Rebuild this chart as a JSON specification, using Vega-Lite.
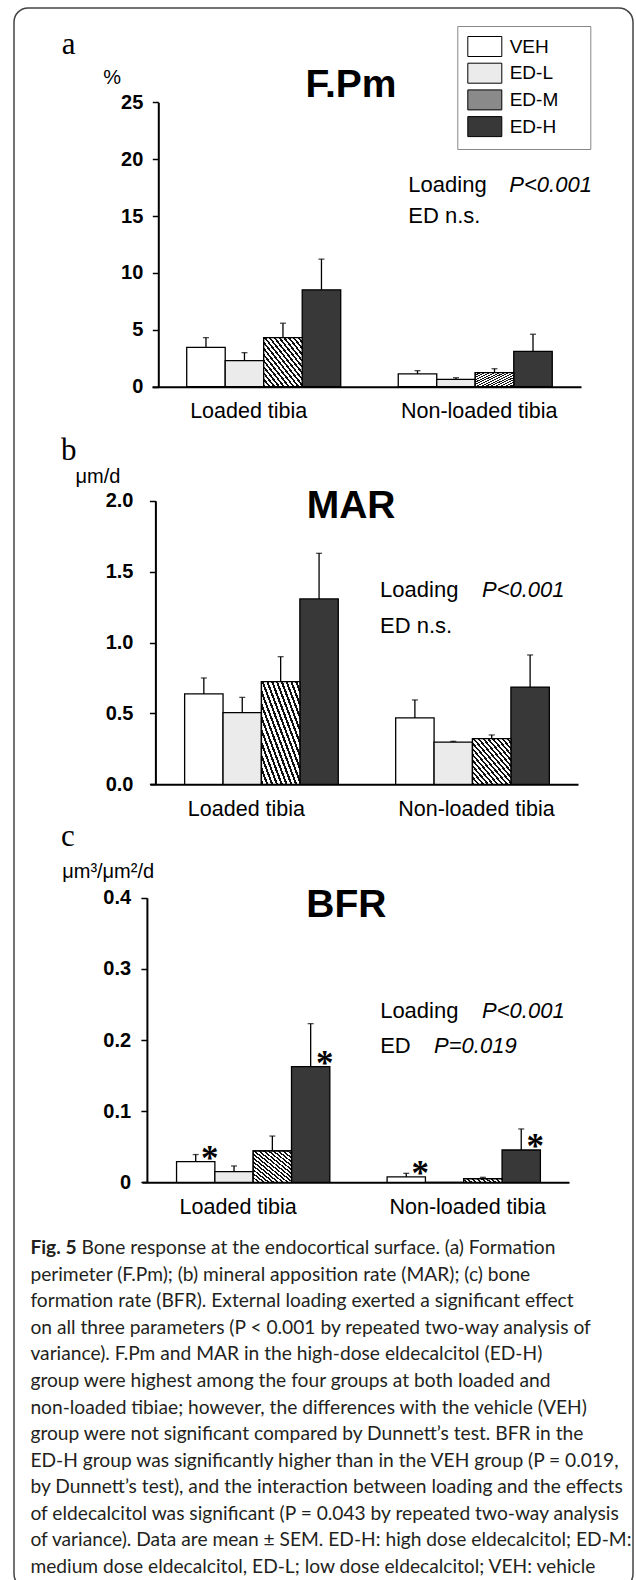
{
  "$schema": "https://vega.github.io/schema/vega-lite/v6.json",
  "width": 619,
  "height": 1580,
  "autosize": "none",
  "padding": {"left": 14, "top": 8, "right": 3, "bottom": -8},
  "background": "white",
  "config": {
    "font": "Liberation Sans",
    "view": {"stroke": "#444444", "strokeWidth": 1.5, "cornerRadius": 14},
    "axis": {"grid": false},
    "text": {"color": "black"}
  },
  "datasets": {
    "fpm": [
      {"tibia": "Loaded tibia", "group": "VEH", "mean": 3.46, "upper": 4.31, "sig": ""},
      {"tibia": "Loaded tibia", "group": "ED-L", "mean": 2.29, "upper": 2.99, "sig": ""},
      {"tibia": "Loaded tibia", "group": "ED-M", "mean": 4.31, "upper": 5.58, "sig": ""},
      {"tibia": "Loaded tibia", "group": "ED-H", "mean": 8.51, "upper": 11.21, "sig": ""},
      {"tibia": "Non-loaded tibia", "group": "VEH", "mean": 1.12, "upper": 1.41, "sig": ""},
      {"tibia": "Non-loaded tibia", "group": "ED-L", "mean": 0.65, "upper": 0.79, "sig": ""},
      {"tibia": "Non-loaded tibia", "group": "ED-M", "mean": 1.23, "upper": 1.58, "sig": ""},
      {"tibia": "Non-loaded tibia", "group": "ED-H", "mean": 3.11, "upper": 4.61, "sig": ""}
    ],
    "mar": [
      {"tibia": "Loaded tibia", "group": "VEH", "mean": 0.637, "upper": 0.75, "sig": ""},
      {"tibia": "Loaded tibia", "group": "ED-L", "mean": 0.505, "upper": 0.613, "sig": ""},
      {"tibia": "Loaded tibia", "group": "ED-M", "mean": 0.724, "upper": 0.9, "sig": ""},
      {"tibia": "Loaded tibia", "group": "ED-H", "mean": 1.307, "upper": 1.629, "sig": ""},
      {"tibia": "Non-loaded tibia", "group": "VEH", "mean": 0.468, "upper": 0.595, "sig": ""},
      {"tibia": "Non-loaded tibia", "group": "ED-L", "mean": 0.298, "upper": 0.303, "sig": ""},
      {"tibia": "Non-loaded tibia", "group": "ED-M", "mean": 0.322, "upper": 0.348, "sig": ""},
      {"tibia": "Non-loaded tibia", "group": "ED-H", "mean": 0.686, "upper": 0.912, "sig": ""}
    ],
    "bfr": [
      {"tibia": "Loaded tibia", "group": "VEH", "mean": 0.029, "upper": 0.039, "sig": "*"},
      {"tibia": "Loaded tibia", "group": "ED-L", "mean": 0.015, "upper": 0.023, "sig": ""},
      {"tibia": "Loaded tibia", "group": "ED-M", "mean": 0.044, "upper": 0.065, "sig": ""},
      {"tibia": "Loaded tibia", "group": "ED-H", "mean": 0.1625, "upper": 0.223, "sig": "*"},
      {"tibia": "Non-loaded tibia", "group": "VEH", "mean": 0.0075, "upper": 0.0126, "sig": "*"},
      {"tibia": "Non-loaded tibia", "group": "ED-L", "mean": 0, "upper": null, "sig": ""},
      {"tibia": "Non-loaded tibia", "group": "ED-M", "mean": 0.005, "upper": 0.007, "sig": ""},
      {"tibia": "Non-loaded tibia", "group": "ED-H", "mean": 0.0454, "upper": 0.075, "sig": "*"}
    ],
    "caption": [
      {"line": 1, "text": "Bone response at the endocortical surface. (a) Formation"},
      {"line": 2, "text": "perimeter (F.Pm); (b) mineral apposition rate (MAR); (c) bone"},
      {"line": 3, "text": "formation rate (BFR). External loading exerted a significant effect"},
      {"line": 4, "text": "on all three parameters (P < 0.001 by repeated two-way analysis of"},
      {"line": 5, "text": "variance). F.Pm and MAR in the high-dose eldecalcitol (ED-H)"},
      {"line": 6, "text": "group were highest among the four groups at both loaded and"},
      {"line": 7, "text": "non-loaded tibiae; however, the differences with the vehicle (VEH)"},
      {"line": 8, "text": "group were not significant compared by Dunnett’s test. BFR in the"},
      {"line": 9, "text": "ED-H group was significantly higher than in the VEH group (P = 0.019,"},
      {"line": 10, "text": "by Dunnett’s test), and the interaction between loading and the effects"},
      {"line": 11, "text": "of eldecalcitol was significant (P = 0.043 by repeated two-way analysis"},
      {"line": 12, "text": "of variance). Data are mean ± SEM. ED-H: high dose eldecalcitol; ED-M:"},
      {"line": 13, "text": "medium dose eldecalcitol, ED-L; low dose eldecalcitol; VEH: vehicle"}
    ]
  },
  "layer": [
    {
      "data": {"name": "fpm"},
      "layer": [
        {
          "mark": {"type": "bar", "stroke": "black", "strokeWidth": 1.3},
          "encoding": {
            "x": {"field": "tibia", "type": "nominal", "sort": ["Loaded tibia", "Non-loaded tibia"],
              "scale": {"range": [138, 567], "paddingInner": 0.272, "paddingOuter": 0.15, "align": 0.547},
              "axis": {"orient": "bottom", "offset": -1201.3, "title": null, "ticks": false, "domainColor": "black", "domainWidth": 2, "labelFontSize": 21.5, "labelColor": "black", "labelPadding": 14, "labelAngle": 0, "labelLimit": 300,
                "labelOffset": {"condition": {"test": "datum.value === 'Loaded tibia'", "value": -15}, "value": 4}}},
            "xOffset": {"field": "group", "type": "nominal", "sort": ["VEH", "ED-L", "ED-M", "ED-H"], "scale": {"paddingInner": 0, "paddingOuter": 0}},
            "y": {"field": "mean", "type": "quantitative",
              "scale": {"domain": [0, 25], "range": [378.7, 94.2], "nice": false, "zero": true},
              "axis": {"orient": "left", "offset": -144.3, "values": [0, 5, 10, 15, 20, 25], "format": "d", "tickSize": 6, "tickWidth": 1.5, "tickColor": "black", "domainColor": "black", "domainWidth": 2, "labelFontSize": 20, "labelFontWeight": "bold", "labelColor": "black", "labelPadding": 9.5,
                "title": "%", "titleAngle": 0, "titleAlign": "left", "titleBaseline": "alphabetic", "titleX": -55.6, "titleY": 75, "titleFontSize": 20, "titleFontWeight": "normal", "titleColor": "black"}},
            "fill": {"field": "group", "type": "nominal", "sort": ["VEH", "ED-L", "ED-M", "ED-H"],
              "scale": {"domain": ["VEH", "ED-L", "ED-M", "ED-H"], "range": ["#ffffff", "#ebebeb", "#8a8a8a", "#383838"]},
              "legend": {"orient": "none", "legendX": 443.3, "legendY": 18, "title": "....", "titleColor": "white", "titleOrient": "right", "titlePadding": 0, "titleFontSize": 19,
                "fillColor": "white", "strokeColor": "#888888", "padding": 10, "rowPadding": 1.7,
                "symbolType": "M-1,-1L2.4,-1L2.4,1L-1,1Z", "symbolSize": 400, "symbolStrokeColor": "black", "symbolStrokeWidth": 1, "symbolOpacity": 1,
                "labelFontSize": 19, "labelColor": "black", "labelOffset": 21.4}}
          }
        },
        {
          "transform": [{"filter": "datum.group === 'ED-M'"}],
          "mark": {"type": "bar", "stroke": "black", "strokeWidth": 1.3,
            "fill": {"gradient": "linear", "x1": 0, "y1": 1, "x2": 1, "y2": 0, "stops": [
              {"offset": 0, "color": "#111111"}, {"offset": 0.028125, "color": "#111111"}, {"offset": 0.028125, "color": "#ffffff"}, {"offset": 0.0625, "color": "#ffffff"},
              {"offset": 0.0625, "color": "#111111"}, {"offset": 0.090625, "color": "#111111"}, {"offset": 0.090625, "color": "#ffffff"}, {"offset": 0.125, "color": "#ffffff"},
              {"offset": 0.125, "color": "#111111"}, {"offset": 0.153125, "color": "#111111"}, {"offset": 0.153125, "color": "#ffffff"}, {"offset": 0.1875, "color": "#ffffff"},
              {"offset": 0.1875, "color": "#111111"}, {"offset": 0.215625, "color": "#111111"}, {"offset": 0.215625, "color": "#ffffff"}, {"offset": 0.25, "color": "#ffffff"},
              {"offset": 0.25, "color": "#111111"}, {"offset": 0.278125, "color": "#111111"}, {"offset": 0.278125, "color": "#ffffff"}, {"offset": 0.3125, "color": "#ffffff"},
              {"offset": 0.3125, "color": "#111111"}, {"offset": 0.340625, "color": "#111111"}, {"offset": 0.340625, "color": "#ffffff"}, {"offset": 0.375, "color": "#ffffff"},
              {"offset": 0.375, "color": "#111111"}, {"offset": 0.403125, "color": "#111111"}, {"offset": 0.403125, "color": "#ffffff"}, {"offset": 0.4375, "color": "#ffffff"},
              {"offset": 0.4375, "color": "#111111"}, {"offset": 0.465625, "color": "#111111"}, {"offset": 0.465625, "color": "#ffffff"}, {"offset": 0.5, "color": "#ffffff"},
              {"offset": 0.5, "color": "#111111"}, {"offset": 0.528125, "color": "#111111"}, {"offset": 0.528125, "color": "#ffffff"}, {"offset": 0.5625, "color": "#ffffff"},
              {"offset": 0.5625, "color": "#111111"}, {"offset": 0.590625, "color": "#111111"}, {"offset": 0.590625, "color": "#ffffff"}, {"offset": 0.625, "color": "#ffffff"},
              {"offset": 0.625, "color": "#111111"}, {"offset": 0.653125, "color": "#111111"}, {"offset": 0.653125, "color": "#ffffff"}, {"offset": 0.6875, "color": "#ffffff"},
              {"offset": 0.6875, "color": "#111111"}, {"offset": 0.715625, "color": "#111111"}, {"offset": 0.715625, "color": "#ffffff"}, {"offset": 0.75, "color": "#ffffff"},
              {"offset": 0.75, "color": "#111111"}, {"offset": 0.778125, "color": "#111111"}, {"offset": 0.778125, "color": "#ffffff"}, {"offset": 0.8125, "color": "#ffffff"},
              {"offset": 0.8125, "color": "#111111"}, {"offset": 0.840625, "color": "#111111"}, {"offset": 0.840625, "color": "#ffffff"}, {"offset": 0.875, "color": "#ffffff"},
              {"offset": 0.875, "color": "#111111"}, {"offset": 0.903125, "color": "#111111"}, {"offset": 0.903125, "color": "#ffffff"}, {"offset": 0.9375, "color": "#ffffff"},
              {"offset": 0.9375, "color": "#111111"}, {"offset": 0.965625, "color": "#111111"}, {"offset": 0.965625, "color": "#ffffff"}, {"offset": 1, "color": "#ffffff"}
            ]}},
          "encoding": {
            "x": {"field": "tibia", "type": "nominal", "sort": ["Loaded tibia", "Non-loaded tibia"]},
            "xOffset": {"field": "group", "type": "nominal", "sort": ["VEH", "ED-L", "ED-M", "ED-H"]},
            "y": {"field": "mean", "type": "quantitative"}
          }
        },
        {
          "mark": {"type": "rule", "color": "black", "strokeWidth": 1.3},
          "encoding": {
            "x": {"field": "tibia", "type": "nominal", "sort": ["Loaded tibia", "Non-loaded tibia"]},
            "xOffset": {"field": "group", "type": "nominal", "sort": ["VEH", "ED-L", "ED-M", "ED-H"]},
            "y": {"field": "mean", "type": "quantitative"},
            "y2": {"field": "upper"}
          }
        },
        {
          "mark": {"type": "tick", "color": "black", "thickness": 1.3, "size": 6, "orient": "horizontal"},
          "encoding": {
            "x": {"field": "tibia", "type": "nominal", "sort": ["Loaded tibia", "Non-loaded tibia"]},
            "xOffset": {"field": "group", "type": "nominal", "sort": ["VEH", "ED-L", "ED-M", "ED-H"]},
            "y": {"field": "upper", "type": "quantitative"}
          }
        },
        {
          "data": {"values": [{}]},
          "mark": {"type": "text", "text": "a", "font": "Liberation Serif", "fontSize": 31, "align": "left", "baseline": "alphabetic", "dx": -202},
          "encoding": {"x": {"datum": "Loaded tibia", "type": "nominal"}, "y": {"datum": 29.24, "type": "quantitative"}}
        },
        {
          "data": {"values": [{}]},
          "mark": {"type": "text", "text": "F.Pm", "fontSize": 39, "fontWeight": "bold", "align": "center", "baseline": "alphabetic", "dx": 87.3},
          "encoding": {"x": {"datum": "Loaded tibia", "type": "nominal"}, "y": {"datum": 25.46, "type": "quantitative"}}
        },
        {
          "data": {"values": [{}]},
          "mark": {"type": "text", "text": "Loading", "fontSize": 22, "align": "left", "baseline": "alphabetic", "dx": -66.9},
          "encoding": {"x": {"datum": "Non-loaded tibia", "type": "nominal"}, "y": {"datum": 17.13, "type": "quantitative"}}
        },
        {
          "data": {"values": [{}]},
          "mark": {"type": "text", "text": "P<0.001", "fontSize": 22, "fontStyle": "italic", "align": "left", "baseline": "alphabetic", "dx": 34.1},
          "encoding": {"x": {"datum": "Non-loaded tibia", "type": "nominal"}, "y": {"datum": 17.13, "type": "quantitative"}}
        },
        {
          "data": {"values": [{}]},
          "mark": {"type": "text", "text": "ED n.s.", "fontSize": 22, "align": "left", "baseline": "alphabetic", "dx": -66.9},
          "encoding": {"x": {"datum": "Non-loaded tibia", "type": "nominal"}, "y": {"datum": 14.36, "type": "quantitative"}}
        }
      ]
    },
    {
      "data": {"name": "mar"},
      "layer": [
        {
          "mark": {"type": "bar", "stroke": "black", "strokeWidth": 1.3},
          "encoding": {
            "x": {"field": "tibia", "type": "nominal", "sort": ["Loaded tibia", "Non-loaded tibia"],
              "scale": {"range": [136, 564], "paddingInner": 0.272, "paddingOuter": 0.15, "align": 0.547},
              "axis": {"orient": "bottom", "offset": -803.7, "title": null, "ticks": false, "domainColor": "black", "domainWidth": 2, "labelFontSize": 21.5, "labelColor": "black", "labelPadding": 14, "labelAngle": 0, "labelLimit": 300,
                "labelOffset": {"condition": {"test": "datum.value === 'Loaded tibia'", "value": -15}, "value": 4}}},
            "xOffset": {"field": "group", "type": "nominal", "sort": ["VEH", "ED-L", "ED-M", "ED-H"], "scale": {"paddingInner": 0, "paddingOuter": 0}},
            "y": {"field": "mean", "type": "quantitative",
              "scale": {"domain": [0, 2], "range": [776.3, 492.7], "nice": false, "zero": true},
              "axis": {"orient": "left", "offset": -141.4, "values": [0, 0.5, 1, 1.5, 2], "format": ".1f", "tickSize": 6, "tickWidth": 1.5, "tickColor": "black", "domainColor": "black", "domainWidth": 2, "labelFontSize": 20, "labelFontWeight": "bold", "labelColor": "black", "labelPadding": 16.4,
                "title": "μm/d", "titleAngle": 0, "titleAlign": "left", "titleBaseline": "alphabetic", "titleX": -80.4, "titleY": 474, "titleFontSize": 20, "titleFontWeight": "normal", "titleColor": "black"}},
            "fill": {"field": "group", "type": "nominal", "sort": ["VEH", "ED-L", "ED-M", "ED-H"]}
          }
        },
        {
          "transform": [{"filter": "datum.group === 'ED-M'"}],
          "mark": {"type": "bar", "stroke": "black", "strokeWidth": 1.3,
            "fill": {"gradient": "linear", "x1": 0, "y1": 1, "x2": 1, "y2": 0, "stops": [
              {"offset": 0, "color": "#111111"}, {"offset": 0.028125, "color": "#111111"}, {"offset": 0.028125, "color": "#ffffff"}, {"offset": 0.0625, "color": "#ffffff"},
              {"offset": 0.0625, "color": "#111111"}, {"offset": 0.090625, "color": "#111111"}, {"offset": 0.090625, "color": "#ffffff"}, {"offset": 0.125, "color": "#ffffff"},
              {"offset": 0.125, "color": "#111111"}, {"offset": 0.153125, "color": "#111111"}, {"offset": 0.153125, "color": "#ffffff"}, {"offset": 0.1875, "color": "#ffffff"},
              {"offset": 0.1875, "color": "#111111"}, {"offset": 0.215625, "color": "#111111"}, {"offset": 0.215625, "color": "#ffffff"}, {"offset": 0.25, "color": "#ffffff"},
              {"offset": 0.25, "color": "#111111"}, {"offset": 0.278125, "color": "#111111"}, {"offset": 0.278125, "color": "#ffffff"}, {"offset": 0.3125, "color": "#ffffff"},
              {"offset": 0.3125, "color": "#111111"}, {"offset": 0.340625, "color": "#111111"}, {"offset": 0.340625, "color": "#ffffff"}, {"offset": 0.375, "color": "#ffffff"},
              {"offset": 0.375, "color": "#111111"}, {"offset": 0.403125, "color": "#111111"}, {"offset": 0.403125, "color": "#ffffff"}, {"offset": 0.4375, "color": "#ffffff"},
              {"offset": 0.4375, "color": "#111111"}, {"offset": 0.465625, "color": "#111111"}, {"offset": 0.465625, "color": "#ffffff"}, {"offset": 0.5, "color": "#ffffff"},
              {"offset": 0.5, "color": "#111111"}, {"offset": 0.528125, "color": "#111111"}, {"offset": 0.528125, "color": "#ffffff"}, {"offset": 0.5625, "color": "#ffffff"},
              {"offset": 0.5625, "color": "#111111"}, {"offset": 0.590625, "color": "#111111"}, {"offset": 0.590625, "color": "#ffffff"}, {"offset": 0.625, "color": "#ffffff"},
              {"offset": 0.625, "color": "#111111"}, {"offset": 0.653125, "color": "#111111"}, {"offset": 0.653125, "color": "#ffffff"}, {"offset": 0.6875, "color": "#ffffff"},
              {"offset": 0.6875, "color": "#111111"}, {"offset": 0.715625, "color": "#111111"}, {"offset": 0.715625, "color": "#ffffff"}, {"offset": 0.75, "color": "#ffffff"},
              {"offset": 0.75, "color": "#111111"}, {"offset": 0.778125, "color": "#111111"}, {"offset": 0.778125, "color": "#ffffff"}, {"offset": 0.8125, "color": "#ffffff"},
              {"offset": 0.8125, "color": "#111111"}, {"offset": 0.840625, "color": "#111111"}, {"offset": 0.840625, "color": "#ffffff"}, {"offset": 0.875, "color": "#ffffff"},
              {"offset": 0.875, "color": "#111111"}, {"offset": 0.903125, "color": "#111111"}, {"offset": 0.903125, "color": "#ffffff"}, {"offset": 0.9375, "color": "#ffffff"},
              {"offset": 0.9375, "color": "#111111"}, {"offset": 0.965625, "color": "#111111"}, {"offset": 0.965625, "color": "#ffffff"}, {"offset": 1, "color": "#ffffff"}
            ]}},
          "encoding": {
            "x": {"field": "tibia", "type": "nominal", "sort": ["Loaded tibia", "Non-loaded tibia"]},
            "xOffset": {"field": "group", "type": "nominal", "sort": ["VEH", "ED-L", "ED-M", "ED-H"]},
            "y": {"field": "mean", "type": "quantitative"}
          }
        },
        {
          "mark": {"type": "rule", "color": "black", "strokeWidth": 1.3},
          "encoding": {
            "x": {"field": "tibia", "type": "nominal", "sort": ["Loaded tibia", "Non-loaded tibia"]},
            "xOffset": {"field": "group", "type": "nominal", "sort": ["VEH", "ED-L", "ED-M", "ED-H"]},
            "y": {"field": "mean", "type": "quantitative"},
            "y2": {"field": "upper"}
          }
        },
        {
          "mark": {"type": "tick", "color": "black", "thickness": 1.3, "size": 6, "orient": "horizontal"},
          "encoding": {
            "x": {"field": "tibia", "type": "nominal", "sort": ["Loaded tibia", "Non-loaded tibia"]},
            "xOffset": {"field": "group", "type": "nominal", "sort": ["VEH", "ED-L", "ED-M", "ED-H"]},
            "y": {"field": "upper", "type": "quantitative"}
          }
        },
        {
          "data": {"values": [{}]},
          "mark": {"type": "text", "text": "b", "font": "Liberation Serif", "fontSize": 31, "align": "left", "baseline": "alphabetic", "dx": -200.4},
          "encoding": {"x": {"datum": "Loaded tibia", "type": "nominal"}, "y": {"datum": 2.287, "type": "quantitative"}}
        },
        {
          "data": {"values": [{}]},
          "mark": {"type": "text", "text": "MAR", "fontSize": 39, "fontWeight": "bold", "align": "center", "baseline": "alphabetic", "dx": 89.6},
          "encoding": {"x": {"datum": "Loaded tibia", "type": "nominal"}, "y": {"datum": 1.878, "type": "quantitative"}}
        },
        {
          "data": {"values": [{}]},
          "mark": {"type": "text", "text": "Loading", "fontSize": 22, "align": "left", "baseline": "alphabetic", "dx": -92.4},
          "encoding": {"x": {"datum": "Non-loaded tibia", "type": "nominal"}, "y": {"datum": 1.321, "type": "quantitative"}}
        },
        {
          "data": {"values": [{}]},
          "mark": {"type": "text", "text": "P<0.001", "fontSize": 22, "fontStyle": "italic", "align": "left", "baseline": "alphabetic", "dx": 9.5},
          "encoding": {"x": {"datum": "Non-loaded tibia", "type": "nominal"}, "y": {"datum": 1.321, "type": "quantitative"}}
        },
        {
          "data": {"values": [{}]},
          "mark": {"type": "text", "text": "ED n.s.", "fontSize": 22, "align": "left", "baseline": "alphabetic", "dx": -92.4},
          "encoding": {"x": {"datum": "Non-loaded tibia", "type": "nominal"}, "y": {"datum": 1.065, "type": "quantitative"}}
        }
      ]
    },
    {
      "data": {"name": "bfr"},
      "layer": [
        {
          "mark": {"type": "bar", "stroke": "black", "strokeWidth": 1.3},
          "encoding": {
            "x": {"field": "tibia", "type": "nominal", "sort": ["Loaded tibia", "Non-loaded tibia"],
              "scale": {"range": [128, 555], "paddingInner": 0.272, "paddingOuter": 0.15, "align": 0.547},
              "axis": {"orient": "bottom", "offset": -405.7, "title": null, "ticks": false, "domainColor": "black", "domainWidth": 2, "labelFontSize": 21.5, "labelColor": "black", "labelPadding": 14, "labelAngle": 0, "labelLimit": 300,
                "labelOffset": {"condition": {"test": "datum.value === 'Loaded tibia'", "value": -15}, "value": 4}}},
            "xOffset": {"field": "group", "type": "nominal", "sort": ["VEH", "ED-L", "ED-M", "ED-H"], "scale": {"paddingInner": 0, "paddingOuter": 0}},
            "y": {"field": "mean", "type": "quantitative",
              "scale": {"domain": [0, 0.4], "range": [1174.3, 889.7], "nice": false, "zero": true},
              "axis": {"orient": "left", "offset": -132.9, "values": [0, 0.1, 0.2, 0.3, 0.4], "labelExpr": "datum.value === 0 ? '0' : format(datum.value, '.1f')", "tickSize": 6, "tickWidth": 1.5, "tickColor": "black", "domainColor": "black", "domainWidth": 2, "labelFontSize": 20, "labelFontWeight": "bold", "labelColor": "black", "labelPadding": 10.3,
                "title": "μm³/μm²/d", "titleAngle": 0, "titleAlign": "left", "titleBaseline": "alphabetic", "titleX": -85.2, "titleY": 869, "titleFontSize": 20, "titleFontWeight": "normal", "titleColor": "black"}},
            "fill": {"field": "group", "type": "nominal", "sort": ["VEH", "ED-L", "ED-M", "ED-H"]}
          }
        },
        {
          "transform": [{"filter": "datum.group === 'ED-M'"}],
          "mark": {"type": "bar", "stroke": "black", "strokeWidth": 1.3,
            "fill": {"gradient": "linear", "x1": 0, "y1": 1, "x2": 1, "y2": 0, "stops": [
              {"offset": 0, "color": "#111111"}, {"offset": 0.028125, "color": "#111111"}, {"offset": 0.028125, "color": "#ffffff"}, {"offset": 0.0625, "color": "#ffffff"},
              {"offset": 0.0625, "color": "#111111"}, {"offset": 0.090625, "color": "#111111"}, {"offset": 0.090625, "color": "#ffffff"}, {"offset": 0.125, "color": "#ffffff"},
              {"offset": 0.125, "color": "#111111"}, {"offset": 0.153125, "color": "#111111"}, {"offset": 0.153125, "color": "#ffffff"}, {"offset": 0.1875, "color": "#ffffff"},
              {"offset": 0.1875, "color": "#111111"}, {"offset": 0.215625, "color": "#111111"}, {"offset": 0.215625, "color": "#ffffff"}, {"offset": 0.25, "color": "#ffffff"},
              {"offset": 0.25, "color": "#111111"}, {"offset": 0.278125, "color": "#111111"}, {"offset": 0.278125, "color": "#ffffff"}, {"offset": 0.3125, "color": "#ffffff"},
              {"offset": 0.3125, "color": "#111111"}, {"offset": 0.340625, "color": "#111111"}, {"offset": 0.340625, "color": "#ffffff"}, {"offset": 0.375, "color": "#ffffff"},
              {"offset": 0.375, "color": "#111111"}, {"offset": 0.403125, "color": "#111111"}, {"offset": 0.403125, "color": "#ffffff"}, {"offset": 0.4375, "color": "#ffffff"},
              {"offset": 0.4375, "color": "#111111"}, {"offset": 0.465625, "color": "#111111"}, {"offset": 0.465625, "color": "#ffffff"}, {"offset": 0.5, "color": "#ffffff"},
              {"offset": 0.5, "color": "#111111"}, {"offset": 0.528125, "color": "#111111"}, {"offset": 0.528125, "color": "#ffffff"}, {"offset": 0.5625, "color": "#ffffff"},
              {"offset": 0.5625, "color": "#111111"}, {"offset": 0.590625, "color": "#111111"}, {"offset": 0.590625, "color": "#ffffff"}, {"offset": 0.625, "color": "#ffffff"},
              {"offset": 0.625, "color": "#111111"}, {"offset": 0.653125, "color": "#111111"}, {"offset": 0.653125, "color": "#ffffff"}, {"offset": 0.6875, "color": "#ffffff"},
              {"offset": 0.6875, "color": "#111111"}, {"offset": 0.715625, "color": "#111111"}, {"offset": 0.715625, "color": "#ffffff"}, {"offset": 0.75, "color": "#ffffff"},
              {"offset": 0.75, "color": "#111111"}, {"offset": 0.778125, "color": "#111111"}, {"offset": 0.778125, "color": "#ffffff"}, {"offset": 0.8125, "color": "#ffffff"},
              {"offset": 0.8125, "color": "#111111"}, {"offset": 0.840625, "color": "#111111"}, {"offset": 0.840625, "color": "#ffffff"}, {"offset": 0.875, "color": "#ffffff"},
              {"offset": 0.875, "color": "#111111"}, {"offset": 0.903125, "color": "#111111"}, {"offset": 0.903125, "color": "#ffffff"}, {"offset": 0.9375, "color": "#ffffff"},
              {"offset": 0.9375, "color": "#111111"}, {"offset": 0.965625, "color": "#111111"}, {"offset": 0.965625, "color": "#ffffff"}, {"offset": 1, "color": "#ffffff"}
            ]}},
          "encoding": {
            "x": {"field": "tibia", "type": "nominal", "sort": ["Loaded tibia", "Non-loaded tibia"]},
            "xOffset": {"field": "group", "type": "nominal", "sort": ["VEH", "ED-L", "ED-M", "ED-H"]},
            "y": {"field": "mean", "type": "quantitative"}
          }
        },
        {
          "mark": {"type": "rule", "color": "black", "strokeWidth": 1.3},
          "encoding": {
            "x": {"field": "tibia", "type": "nominal", "sort": ["Loaded tibia", "Non-loaded tibia"]},
            "xOffset": {"field": "group", "type": "nominal", "sort": ["VEH", "ED-L", "ED-M", "ED-H"]},
            "y": {"field": "mean", "type": "quantitative"},
            "y2": {"field": "upper"}
          }
        },
        {
          "mark": {"type": "tick", "color": "black", "thickness": 1.3, "size": 6, "orient": "horizontal"},
          "encoding": {
            "x": {"field": "tibia", "type": "nominal", "sort": ["Loaded tibia", "Non-loaded tibia"]},
            "xOffset": {"field": "group", "type": "nominal", "sort": ["VEH", "ED-L", "ED-M", "ED-H"]},
            "y": {"field": "upper", "type": "quantitative"}
          }
        },
        {
          "mark": {"type": "text", "font": "Liberation Serif", "fontWeight": "bold", "fontSize": 35, "align": "center", "baseline": "alphabetic", "dx": 14, "dy": 8.5},
          "encoding": {
            "x": {"field": "tibia", "type": "nominal", "sort": ["Loaded tibia", "Non-loaded tibia"]},
            "xOffset": {"field": "group", "type": "nominal", "sort": ["VEH", "ED-L", "ED-M", "ED-H"]},
            "y": {"field": "mean", "type": "quantitative"},
            "text": {"field": "sig", "type": "nominal"}
          }
        },
        {
          "data": {"values": [{}]},
          "mark": {"type": "text", "text": "c", "font": "Liberation Serif", "fontSize": 31, "align": "left", "baseline": "alphabetic", "dx": -192.2},
          "encoding": {"x": {"datum": "Loaded tibia", "type": "nominal"}, "y": {"datum": 0.4727, "type": "quantitative"}}
        },
        {
          "data": {"values": [{}]},
          "mark": {"type": "text", "text": "BFR", "fontSize": 39, "fontWeight": "bold", "align": "center", "baseline": "alphabetic", "dx": 93.1},
          "encoding": {"x": {"datum": "Loaded tibia", "type": "nominal"}, "y": {"datum": 0.3733, "type": "quantitative"}}
        },
        {
          "data": {"values": [{}]},
          "mark": {"type": "text", "text": "Loading", "fontSize": 22, "align": "left", "baseline": "alphabetic", "dx": -83.6},
          "encoding": {"x": {"datum": "Non-loaded tibia", "type": "nominal"}, "y": {"datum": 0.2309, "type": "quantitative"}}
        },
        {
          "data": {"values": [{}]},
          "mark": {"type": "text", "text": "P<0.001", "fontSize": 22, "fontStyle": "italic", "align": "left", "baseline": "alphabetic", "dx": 18.3},
          "encoding": {"x": {"datum": "Non-loaded tibia", "type": "nominal"}, "y": {"datum": 0.2309, "type": "quantitative"}}
        },
        {
          "data": {"values": [{}]},
          "mark": {"type": "text", "text": "ED", "fontSize": 22, "align": "left", "baseline": "alphabetic", "dx": -83.6},
          "encoding": {"x": {"datum": "Non-loaded tibia", "type": "nominal"}, "y": {"datum": 0.1817, "type": "quantitative"}}
        },
        {
          "data": {"values": [{}]},
          "mark": {"type": "text", "text": "P=0.019", "fontSize": 22, "fontStyle": "italic", "align": "left", "baseline": "alphabetic", "dx": -29.7},
          "encoding": {"x": {"datum": "Non-loaded tibia", "type": "nominal"}, "y": {"datum": 0.1817, "type": "quantitative"}}
        }
      ]
    },
    {
      "data": {"name": "caption"},
      "layer": [
        {
          "transform": [{"filter": "datum.line > 1"}],
          "mark": {"type": "text", "align": "left", "baseline": "middle", "font": "Lato", "fontSize": 19.2, "color": "#231f20"},
          "encoding": {
            "x": {"datum": 0, "type": "quantitative", "scale": {"domain": [0, 1], "range": [16.4, 617]}, "axis": null},
            "y": {"field": "line", "type": "quantitative", "scale": {"domain": [1, 13], "range": [1240, 1559]}, "axis": null},
            "text": {"field": "text", "type": "nominal"}
          }
        },
        {
          "transform": [{"filter": "datum.line === 1"}],
          "mark": {"type": "text", "align": "left", "baseline": "middle", "font": "Lato", "fontSize": 19.2, "color": "#231f20", "dx": 51},
          "encoding": {
            "x": {"datum": 0, "type": "quantitative"},
            "y": {"field": "line", "type": "quantitative"},
            "text": {"field": "text", "type": "nominal"}
          }
        },
        {
          "transform": [{"filter": "datum.line === 1"}],
          "mark": {"type": "text", "text": "Fig. 5", "align": "left", "baseline": "middle", "font": "Lato", "fontSize": 19.2, "fontWeight": "bold", "color": "#231f20"},
          "encoding": {
            "x": {"datum": 0, "type": "quantitative"},
            "y": {"field": "line", "type": "quantitative"}
          }
        }
      ]
    }
  ],
  "resolve": {
    "scale": {"x": "independent", "y": "independent", "xOffset": "independent"},
    "axis": {"x": "independent", "y": "independent"}
  }
}
